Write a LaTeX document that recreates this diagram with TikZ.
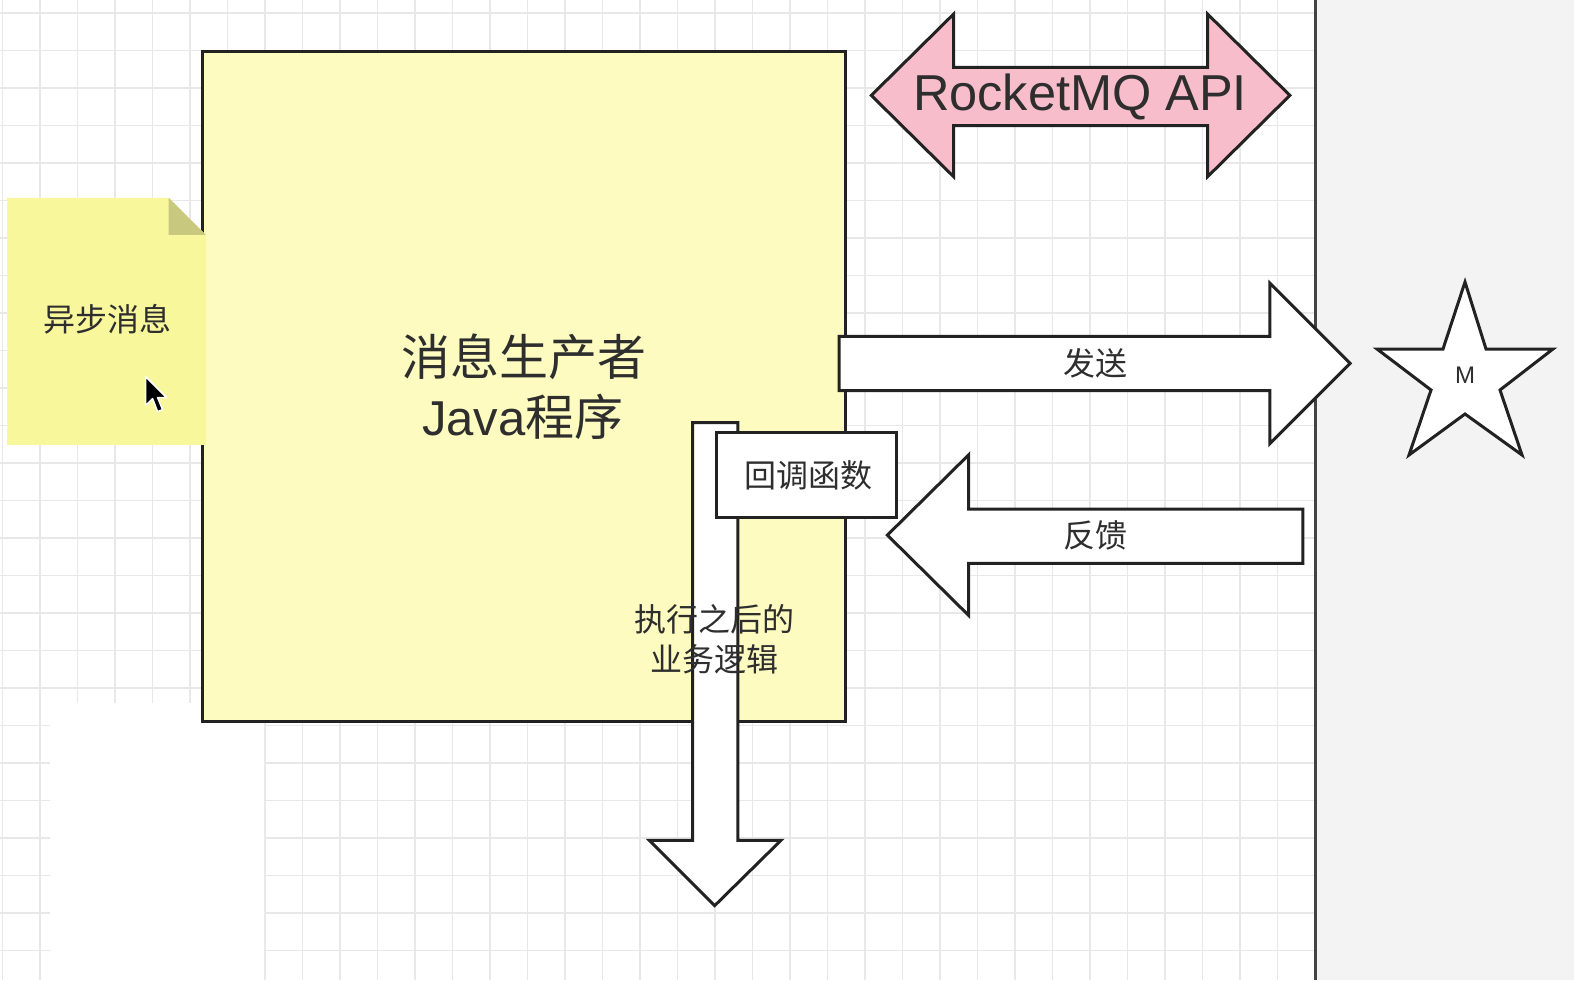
\documentclass[tikz,border=0pt]{standalone}
\usepackage{fontspec}
\setmainfont{Liberation Sans}
\newfontfamily\cjk{Noto Sans CJK SC}
\definecolor{gridc}{HTML}{E8E8E8}
\definecolor{ink}{HTML}{222222}
\definecolor{txt}{HTML}{2E2E2E}
\definecolor{mainy}{HTML}{FDFBC0}
\definecolor{notey}{HTML}{F8F79C}
\definecolor{fold}{HTML}{C8C87E}
\definecolor{pinkc}{HTML}{F8BDCB}
\definecolor{sidebg}{HTML}{F3F3F3}
\tikzset{
  shape line/.style={draw=ink, line width=3pt, line join=miter},
  lbl/.style={text=txt, inner sep=0pt},
  cjklbl/.style={lbl, font=\cjk\fontsize{32}{36}\selectfont},
}
\begin{document}
\begin{tikzpicture}[x=1pt,y=-1pt]
\useasboundingbox (0,0) rectangle (1574,980);
\fill[white] (0,0) rectangle (1574,980);
% grid
\foreach \i in {0,...,34} {
  \draw[gridc, line width=1.2pt] ({2.5+37.5*\i},0) -- ({2.5+37.5*\i},980);
}
\foreach \j in {0,...,26} {
  \draw[gridc, line width=1.2pt] (0,{13+37.5*\j}) -- (1315,{13+37.5*\j});
}
% white patch bottom-left
\fill[white, rounded corners=20pt] (50,703) rectangle (264,980);
% right side panel
\fill[sidebg] (1315,0) rectangle (1574,980);
\draw[ink!85, line width=3pt] (1315,0) -- (1315,980);

% star M (full-size coordinates)
\draw[shape line, fill=white] (1465,282) -- (1486,349) -- (1553,349) -- (1500,390) -- (1522,455)
  -- (1465,414) -- (1409,455) -- (1431,390) -- (1377,349) -- (1443,349) -- cycle;
\node[lbl, font=\fontsize{24}{26}\selectfont] (mlabel) at (1465,375) {M};

\begin{scope}[x=1.0038pt, y=-1.004pt]
% main box
\draw[shape line, fill=mainy] (202,51) rectangle (842,719);
\node[lbl, font=\cjk\fontsize{49}{52}\selectfont] (prod) at (522,355) {消息生产者};
\node[lbl, font=\fontsize{49}{52}\selectfont] (prog) at (521,415) {Java{\cjk 程序}};

% note
\fill[notey] (7,197) -- (168,197) -- (205,234) -- (205,443) -- (7,443) -- cycle;
\fill[fold] (168,197) -- (205,234) -- (168,234) -- cycle;
\node[cjklbl] (async) at (107,318) {异步消息};
% cursor
\draw[white, line width=1.5pt, fill=black, line join=round]
  (145,375) -- (145,404) -- (152,397) -- (157,410) -- (162,408) -- (157,396) -- (166,396) -- cycle;

% RocketMQ API double arrow
\draw[shape line, fill=pinkc] (868,95) -- (950,14) -- (950,67) -- (1203,67) -- (1203,14) -- (1285,95)
  -- (1203,176) -- (1203,125) -- (950,125) -- (950,176) -- cycle;
\node[lbl, font=\fontsize{50.5}{54}\selectfont] (api) at (1076,97) {RocketMQ API};

% send arrow
\draw[shape line, fill=white] (836,335) -- (1265,335) -- (1265,282) -- (1345,362) -- (1265,442)
  -- (1265,389) -- (836,389) -- cycle;
\node[cjklbl] (send) at (1091,362) {发送};

% feedback arrow
\draw[shape line, fill=white] (1298,507) -- (965,507) -- (965,453) -- (884,533) -- (965,613)
  -- (965,561) -- (1298,561) -- cycle;
\node[cjklbl] (fb) at (1091,533) {反馈};

% down arrow
\draw[shape line, fill=white] (690,421) -- (735,421) -- (735,837) -- (778,837) -- (712,902)
  -- (647,837) -- (690,837) -- cycle;

% callback box
\draw[shape line, fill=white] (714,431) rectangle (893,515);
\node[cjklbl] (cbt) at (805,473) {回调函数};

% after text
\node[cjklbl] (after1) at (712,617) {执行之后的};
\node[cjklbl] (after2) at (712,657) {业务逻辑};
\end{scope}
\end{tikzpicture}
\end{document}
